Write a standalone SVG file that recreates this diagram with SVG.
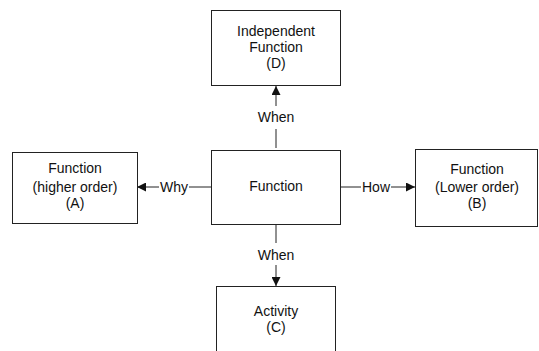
<svg xmlns="http://www.w3.org/2000/svg" width="539" height="351" viewBox="0 0 539 351">
<style>
.box{fill:#fff;stroke:#222;stroke-width:1}
.t{font-family:"Liberation Sans",Arial,sans-serif;font-size:14px;fill:#111;text-anchor:middle}
.c{stroke:#222;stroke-width:1;fill:none}
</style>
<defs>
<marker id="ah" viewBox="0 0 10 10" refX="10" refY="5" markerWidth="9" markerHeight="9" markerUnits="userSpaceOnUse" orient="auto">
<path d="M0,0 L10,5 L0,10 z" fill="#111"/>
</marker>
</defs>
<rect width="539" height="351" fill="#fff"/>
<g id="connectors">
<path class="c" d="M276,148 V129"/>
<path class="c" d="M276,106 V86" marker-end="url(#ah)"/>
<text class="t" x="276" y="122">When</text>
<path class="c" d="M211,187 H189"/>
<path class="c" d="M159,187 H137" marker-end="url(#ah)"/>
<text class="t" x="174" y="192">Why</text>
<path class="c" d="M340,187 H361"/>
<path class="c" d="M391,187 H415" marker-end="url(#ah)"/>
<text class="t" x="376" y="192">How</text>
<path class="c" d="M276,224 V243"/>
<path class="c" d="M276,265 V286" marker-end="url(#ah)"/>
<text class="t" x="276" y="260">When</text>
</g>
<g id="nodeD">
<rect class="box" x="211.5" y="10.5" width="129" height="75"/>
<text class="t" x="276" y="36">Independent</text>
<text class="t" x="276" y="52">Function</text>
<text class="t" x="276" y="68">(D)</text>
</g>
<g id="nodeCenter">
<rect class="box" x="211.5" y="150.5" width="129" height="74"/>
<text class="t" x="276" y="191">Function</text>
</g>
<g id="nodeA">
<rect class="box" x="12.5" y="152.5" width="125" height="71"/>
<text class="t" x="75" y="173">Function</text>
<text class="t" x="75" y="192">(higher order)</text>
<text class="t" x="75" y="208">(A)</text>
</g>
<g id="nodeB">
<rect class="box" x="415.5" y="149.5" width="122" height="77"/>
<text class="t" x="477" y="174">Function</text>
<text class="t" x="477" y="192">(Lower order)</text>
<text class="t" x="477" y="208">(B)</text>
</g>
<g id="nodeC">
<rect class="box" x="216.5" y="286.5" width="119" height="80"/>
<text class="t" x="276" y="316">Activity</text>
<text class="t" x="276" y="332">(C)</text>
</g>
</svg>
